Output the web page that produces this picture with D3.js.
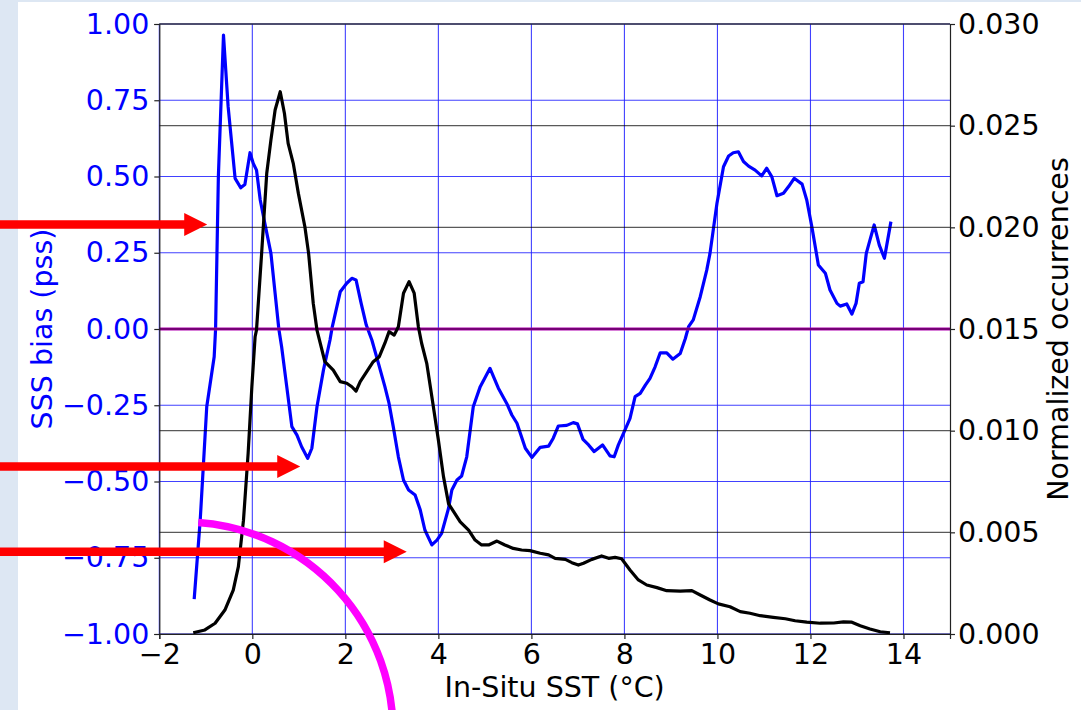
<!DOCTYPE html>
<html>
<head>
<meta charset="utf-8">
<script src="https://cdn.jsdelivr.net/npm/d3@7"></script>
<style>
  body { margin: 0; background: #fff; }
  svg { display: block; }
  text { font-family: "DejaVu Sans", sans-serif; }
</style>
</head>
<body>
<div id="chart"></div>
<script>
// SSS bias (left axis, blue) against in-situ SST
var biasSst = [-1.25, -1.12, -0.98, -0.82, -0.79, -0.73, -0.62, -0.52, -0.37, -0.25, -0.16, -0.05, 0.02, 0.09, 0.17,
  0.27, 0.40, 0.49, 0.57, 0.63, 0.74, 0.85, 0.96, 1.06, 1.19, 1.28, 1.39, 1.53, 1.67, 1.72, 1.89, 2.03, 2.14, 2.23,
  2.34, 2.45, 2.57, 2.71, 2.85, 2.94, 3.03, 3.14, 3.25, 3.36, 3.50, 3.61, 3.71, 3.86, 3.97, 4.07, 4.22, 4.29, 4.40,
  4.50, 4.61, 4.75, 4.90, 5.11, 5.29, 5.47, 5.58, 5.69, 5.87, 6.01, 6.19, 6.37, 6.47, 6.58, 6.76, 6.90, 6.99, 7.11,
  7.23, 7.35, 7.53, 7.69, 7.78, 7.87, 7.98, 8.12, 8.23, 8.34, 8.45, 8.55, 8.66, 8.77, 8.91, 9.04, 9.20, 9.31, 9.38,
  9.48, 9.63, 9.77, 9.84, 9.99, 10.13, 10.24, 10.34, 10.45, 10.56, 10.67, 10.81, 10.95, 11.06, 11.17, 11.28, 11.42,
  11.53, 11.65, 11.82, 11.92, 12.03, 12.17, 12.32, 12.42, 12.57, 12.64, 12.78, 12.89, 12.98, 13.05, 13.13, 13.20,
  13.28, 13.37, 13.48, 13.59, 13.73];
var biasValues = [-0.886, -0.626, -0.255, -0.091, 0.0, 0.50, 0.964, 0.729, 0.494, 0.463, 0.474, 0.578, 0.543, 0.521, 0.423,
  0.346, 0.248, 0.117, 0.0, -0.058, -0.189, -0.32, -0.348, -0.386, -0.424, -0.391, -0.255, -0.134, -0.036, 0.008, 0.122, 0.15, 0.166, 0.161,
  0.084, 0.013, -0.036, -0.112, -0.189, -0.244, -0.32, -0.419, -0.495, -0.528, -0.544, -0.593, -0.659, -0.708, -0.692, -0.67, -0.587, -0.528, -0.495,
  -0.482, -0.419, -0.255, -0.189, -0.129, -0.194, -0.244, -0.282, -0.309, -0.391, -0.421, -0.388, -0.384, -0.358, -0.318, -0.316, -0.307, -0.311, -0.362,
  -0.38, -0.402, -0.38, -0.416, -0.419, -0.38, -0.342, -0.293, -0.222, -0.211, -0.184, -0.162, -0.124, -0.078, -0.078, -0.099, -0.08, -0.031, 0.008,
  0.03, 0.106, 0.193, 0.248, 0.412, 0.532, 0.567, 0.578, 0.581, 0.549, 0.534, 0.521, 0.502, 0.527, 0.499, 0.437, 0.445,
  0.467, 0.494, 0.475, 0.423, 0.335, 0.21, 0.183, 0.128, 0.084, 0.075, 0.082, 0.049, 0.084, 0.15, 0.155, 0.248,
  0.292, 0.341, 0.275, 0.232, 0.352];

// normalized occurrences (right axis, black)
var occSst = [-1.27, -1.02, -0.80, -0.59, -0.41, -0.30, -0.19, -0.09, -0.01, 0.06, 0.09, 0.20, 0.31, 0.40, 0.49, 0.60,
  0.69, 0.77, 0.88, 0.99, 1.13, 1.21, 1.31, 1.39, 1.46, 1.56, 1.74, 1.89, 2.03, 2.14, 2.23, 2.32, 2.46, 2.60, 2.73,
  2.85, 2.94, 3.05, 3.14, 3.25, 3.37, 3.48, 3.57, 3.64, 3.75, 3.86, 4.00, 4.11, 4.22, 4.47, 4.65, 4.79, 4.93, 5.08,
  5.26, 5.43, 5.61, 5.79, 5.97, 6.19, 6.37, 6.51, 6.73, 6.87, 7.01, 7.12, 7.30, 7.51, 7.66, 7.80, 7.94, 8.12, 8.30,
  8.48, 8.70, 8.91, 9.20, 9.45, 9.63, 9.84, 10.02, 10.27, 10.49, 10.70, 10.92, 11.20, 11.46, 11.67, 11.92, 12.21,
  12.50, 12.71, 12.89, 13.07, 13.28, 13.50, 13.71];
var occValues = [0.00006, 0.0002, 0.00053, 0.00118, 0.00216, 0.00331, 0.0056, 0.00889, 0.01216, 0.01462, 0.01495, 0.01872, 0.02266, 0.0243, 0.02577, 0.02667,
  0.02561, 0.02413, 0.02315, 0.02167, 0.02003, 0.01872, 0.01626, 0.01495, 0.0143, 0.01339, 0.01298, 0.01241, 0.01233, 0.01216, 0.01195, 0.01241, 0.0129, 0.01339, 0.01364,
  0.0143, 0.01487, 0.0147, 0.01511, 0.01676, 0.01733, 0.01676, 0.01511, 0.0143, 0.01331, 0.01167, 0.00954, 0.00774, 0.0064, 0.00552, 0.00511, 0.00462, 0.00438, 0.00438,
  0.00457, 0.00438, 0.00421, 0.00413, 0.0041, 0.00397, 0.00389, 0.00372, 0.00367, 0.00351, 0.00339, 0.00348, 0.00367, 0.00384, 0.00372, 0.00377, 0.0037, 0.00315, 0.00266,
  0.00241, 0.00228, 0.00213, 0.00211, 0.00213, 0.00192, 0.00167, 0.00148, 0.00134, 0.0011, 0.00102, 0.0009, 0.00082, 0.00075, 0.00065, 0.00058, 0.00053,
  0.00054, 0.0006, 0.00058, 0.00041, 0.00025, 0.00011, 0.00006];

var xTicks = [-2, 0, 2, 4, 6, 8, 10, 12, 14];
var biasTicks = [-1, -0.75, -0.5, -0.25, 0, 0.25, 0.5, 0.75, 1];
var occTicks = [0, 0.005, 0.01, 0.015, 0.02, 0.025, 0.03];

// red arrow annotations: tip positions in data units (SST, bias)
var arrowTipSst = [-0.97, 1.03, 3.32];
var arrowTipBias = [0.343, -0.451, -0.730];

// Setting up the margins and the graph area
var W = 1081, H = 710;
var margin = { top: 24, right: 131, bottom: 76, left: 159.3 },
    width = W - margin.left - margin.right,
    height = H - margin.top - margin.bottom;

var root = d3.select('#chart').append('svg')
    .attr('width', W)
    .attr('height', H);

// light blue page border strips
root.append('rect').attr('x', 0).attr('y', 0).attr('width', W).attr('height', H).attr('fill', '#dde7f3');
root.append('rect').attr('x', 18).attr('y', 2).attr('width', W - 18).attr('height', H - 2).attr('fill', '#fff');

var svg = root.append('g')
    .attr('transform', 'translate(' + margin.left + ',' + margin.top + ')');

var x = d3.scaleLinear().domain([-2, 15]).range([0, width]);
var yL = d3.scaleLinear().domain([-1, 1]).range([height, 0]);
var yR = d3.scaleLinear().domain([0, 0.03]).range([height, 0]);

// blue grid (x and left axis)
svg.append('g').selectAll('line').data(xTicks).enter().append('line')
    .attr('x1', function (d) { return x(d); }).attr('x2', function (d) { return x(d); })
    .attr('y1', 0).attr('y2', height)
    .attr('stroke', '#2020ff').attr('stroke-opacity', 0.85).attr('stroke-width', 1.1);
svg.append('g').selectAll('line').data(biasTicks).enter().append('line')
    .attr('x1', 0).attr('x2', width)
    .attr('y1', function (d) { return yL(d); }).attr('y2', function (d) { return yL(d); })
    .attr('stroke', '#2020ff').attr('stroke-opacity', 0.85).attr('stroke-width', 1.1);

// bias curve
var biasData = biasSst.map(function (s, i) { return [s, biasValues[i]]; });
svg.append('path').datum(biasData)
    .attr('fill', 'none').attr('stroke', '#0000ff').attr('stroke-width', 3.2)
    .attr('stroke-linejoin', 'round')
    .attr('d', d3.line().x(function (d) { return x(d[0]); }).y(function (d) { return yL(d[1]); }));

// zero line
svg.append('line')
    .attr('x1', 0).attr('x2', width).attr('y1', yL(0)).attr('y2', yL(0))
    .attr('stroke', '#b000b0').attr('stroke-width', 3.2);

// black grid (right axis)
svg.append('g').selectAll('line').data(occTicks).enter().append('line')
    .attr('x1', 0).attr('x2', width)
    .attr('y1', function (d) { return yR(d); }).attr('y2', function (d) { return yR(d); })
    .attr('stroke', '#000').attr('stroke-opacity', 0.65).attr('stroke-width', 1.2);

// occurrences curve
var occData = occSst.map(function (s, i) { return [s, occValues[i]]; });
svg.append('path').datum(occData)
    .attr('fill', 'none').attr('stroke', '#000').attr('stroke-width', 3.2)
    .attr('stroke-linejoin', 'round')
    .attr('d', d3.line().x(function (d) { return x(d[0]); }).y(function (d) { return yR(d[1]); }));

// axes
var fs = '28.5px';
var gx = svg.append('g')
    .attr('transform', 'translate(0,' + height + ')')
    .call(d3.axisBottom(x).tickValues(xTicks).tickSize(5).tickPadding(5)
      .tickFormat(function (d) { return d < 0 ? '\u2212' + Math.abs(d) : d; }));
gx.selectAll('text').attr('font-size', fs).attr('fill', '#000').attr('font-family', 'DejaVu Sans');

var gl = svg.append('g')
    .call(d3.axisLeft(yL).tickValues(biasTicks).tickSize(5).tickPadding(5)
      .tickFormat(function (d) { var s = Math.abs(d).toFixed(2); return d < 0 ? '\u2212' + s : s; }));
gl.selectAll('text').attr('font-size', fs).attr('fill', '#0000ff').attr('font-family', 'DejaVu Sans');

var gr = svg.append('g')
    .attr('transform', 'translate(' + width + ',0)')
    .call(d3.axisRight(yR).tickValues(occTicks).tickSize(5).tickPadding(3)
      .tickFormat(d3.format('.3f')));
gr.selectAll('text').attr('font-size', fs).attr('fill', '#000').attr('font-family', 'DejaVu Sans');

[gx, gl, gr].forEach(function (g) {
  g.select('.domain').attr('stroke', '#222').attr('stroke-width', 1.2);
  g.selectAll('.tick line').attr('stroke', '#222').attr('stroke-width', 1.2);
});
// top spine
svg.append('line').attr('x1', 0).attr('x2', width).attr('y1', 0).attr('y2', 0)
    .attr('stroke', '#333').attr('stroke-width', 1.2);

// axis labels
svg.append('text')
    .attr('x', width / 2).attr('y', height + 63)
    .attr('text-anchor', 'middle').attr('font-size', fs).attr('fill', '#000')
    .text('In-Situ SST (\u00b0C)');
svg.append('text')
    .attr('transform', 'translate(' + (52 - margin.left) + ',' + (height / 2) + ') rotate(-90)')
    .attr('text-anchor', 'middle').attr('font-size', fs).attr('fill', '#0000ff')
    .text('SSS bias (pss)');
svg.append('text')
    .attr('transform', 'translate(' + (1068 - margin.left) + ',' + (height / 2) + ') rotate(-90)')
    .attr('text-anchor', 'middle').attr('font-size', fs).attr('fill', '#000')
    .text('Normalized occurrences');

// annotations: red arrows from the left page edge
var shaft = 8.5, headLen = 23, headHalf = 11.5;
arrowTipSst.forEach(function (s, i) {
  var tx = x(s), ty = yL(arrowTipBias[i]);
  var x0 = -margin.left;
  var p = d3.path();
  p.moveTo(x0, ty - shaft / 2);
  p.lineTo(tx - headLen, ty - shaft / 2);
  p.lineTo(tx - headLen, ty - headHalf);
  p.lineTo(tx, ty);
  p.lineTo(tx - headLen, ty + headHalf);
  p.lineTo(tx - headLen, ty + shaft / 2);
  p.lineTo(x0, ty + shaft / 2);
  p.closePath();
  svg.append('path').attr('d', p.toString()).attr('fill', '#ff0000');
});

// annotation: magenta arc
var arcC = [-1.49, -1.321], arcR = 210;
var ap = d3.path();
ap.arc(x(arcC[0]), yL(arcC[1]), arcR, -1.498, 0.02);
svg.append('path').attr('d', ap.toString())
    .attr('fill', 'none').attr('stroke', '#ff00ff').attr('stroke-width', 7.5);
</script>
</body>
</html>
